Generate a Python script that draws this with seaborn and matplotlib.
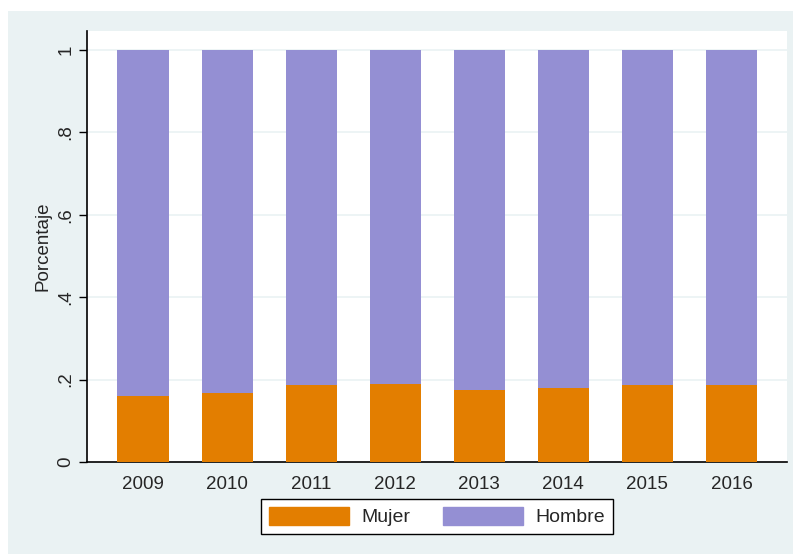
import pandas as pd
import matplotlib.pyplot as plt
import matplotlib.patches as mpatches
import seaborn as sns

# Datos: proporcion de mujeres y hombres por anio
years = ['2009', '2010', '2011', '2012', '2013', '2014', '2015', '2016']
mujer = [0.160, 0.167, 0.186, 0.189, 0.174, 0.180, 0.188, 0.187]
hombre = [1 - m for m in mujer]
yticks = [0, 0.2, 0.4, 0.6, 0.8, 1]
ytick_labels = ['0', '.2', '.4', '.6', '.8', '1']

orange = '#E37E00'
purple = '#948FD3'
bg = '#EAF2F3'

sns.set_style('white')
plt.rcParams['font.family'] = ['Liberation Sans', 'DejaVu Sans']

df = pd.DataFrame({'year': years, 'Mujer': mujer, 'Hombre': hombre})
df['total'] = df['Mujer'] + df['Hombre']

fig = plt.figure(figsize=(7.93, 5.54), dpi=100)
fig.patch.set_facecolor('white')
# light panel behind the graph (Stata style)
fig.patches.append(mpatches.Rectangle((8 / 793, 0), 1, (554 - 11) / 554,
                                      transform=fig.transFigure, facecolor=bg,
                                      edgecolor='none', zorder=-5))

ax = fig.add_axes([87 / 793, 92 / 554, 700 / 793, 431 / 554])
ax.set_zorder(1)
ax.set_facecolor('white')

sns.barplot(data=df, x='year', y='total', color=purple, width=0.607,
            linewidth=0, saturation=1, ax=ax, zorder=2)
sns.barplot(data=df, x='year', y='Mujer', color=orange, width=0.607,
            linewidth=0, saturation=1, ax=ax, zorder=3)

ax.set_xlim(-0.666, 7.66)
ax.set_ylim(0, 1.046)
ax.set_yticks(yticks)
ax.set_yticklabels(ytick_labels, rotation=90, va='center')
for t in yticks[1:]:
    ax.axhline(t, color=bg, linewidth=1.2, zorder=1)

for s in ['top', 'right']:
    ax.spines[s].set_visible(False)
for s in ['left', 'bottom']:
    ax.spines[s].set_color('black')
    ax.spines[s].set_linewidth(1.2)

ax.tick_params(axis='y', left=True, length=6, width=1, color='black',
               labelsize=13.5, pad=3, direction='out')
ax.tick_params(axis='x', bottom=False, length=0, labelsize=13.5, pad=10)
ax.set_xlabel('')
ax.set_ylabel('Porcentaje', fontsize=13.5, labelpad=4)

handles = [mpatches.Patch(color=orange, label='Mujer'),
           mpatches.Patch(color=purple, label='Hombre')]
leg = fig.legend(handles=handles, loc='center', bbox_to_anchor=(437 / 793, 37.5 / 554),
                 ncol=2, fontsize=14, frameon=True, fancybox=False,
                 handlelength=4.1, handleheight=1.1, handletextpad=0.64,
                 columnspacing=1.7, borderpad=0.4, borderaxespad=0)
leg.get_frame().set_edgecolor('black')
leg.get_frame().set_facecolor('white')
leg.get_frame().set_alpha(1)
leg.get_frame().set_linewidth(1)
leg.set_zorder(5)

plt.savefig('out.png', dpi=100)
